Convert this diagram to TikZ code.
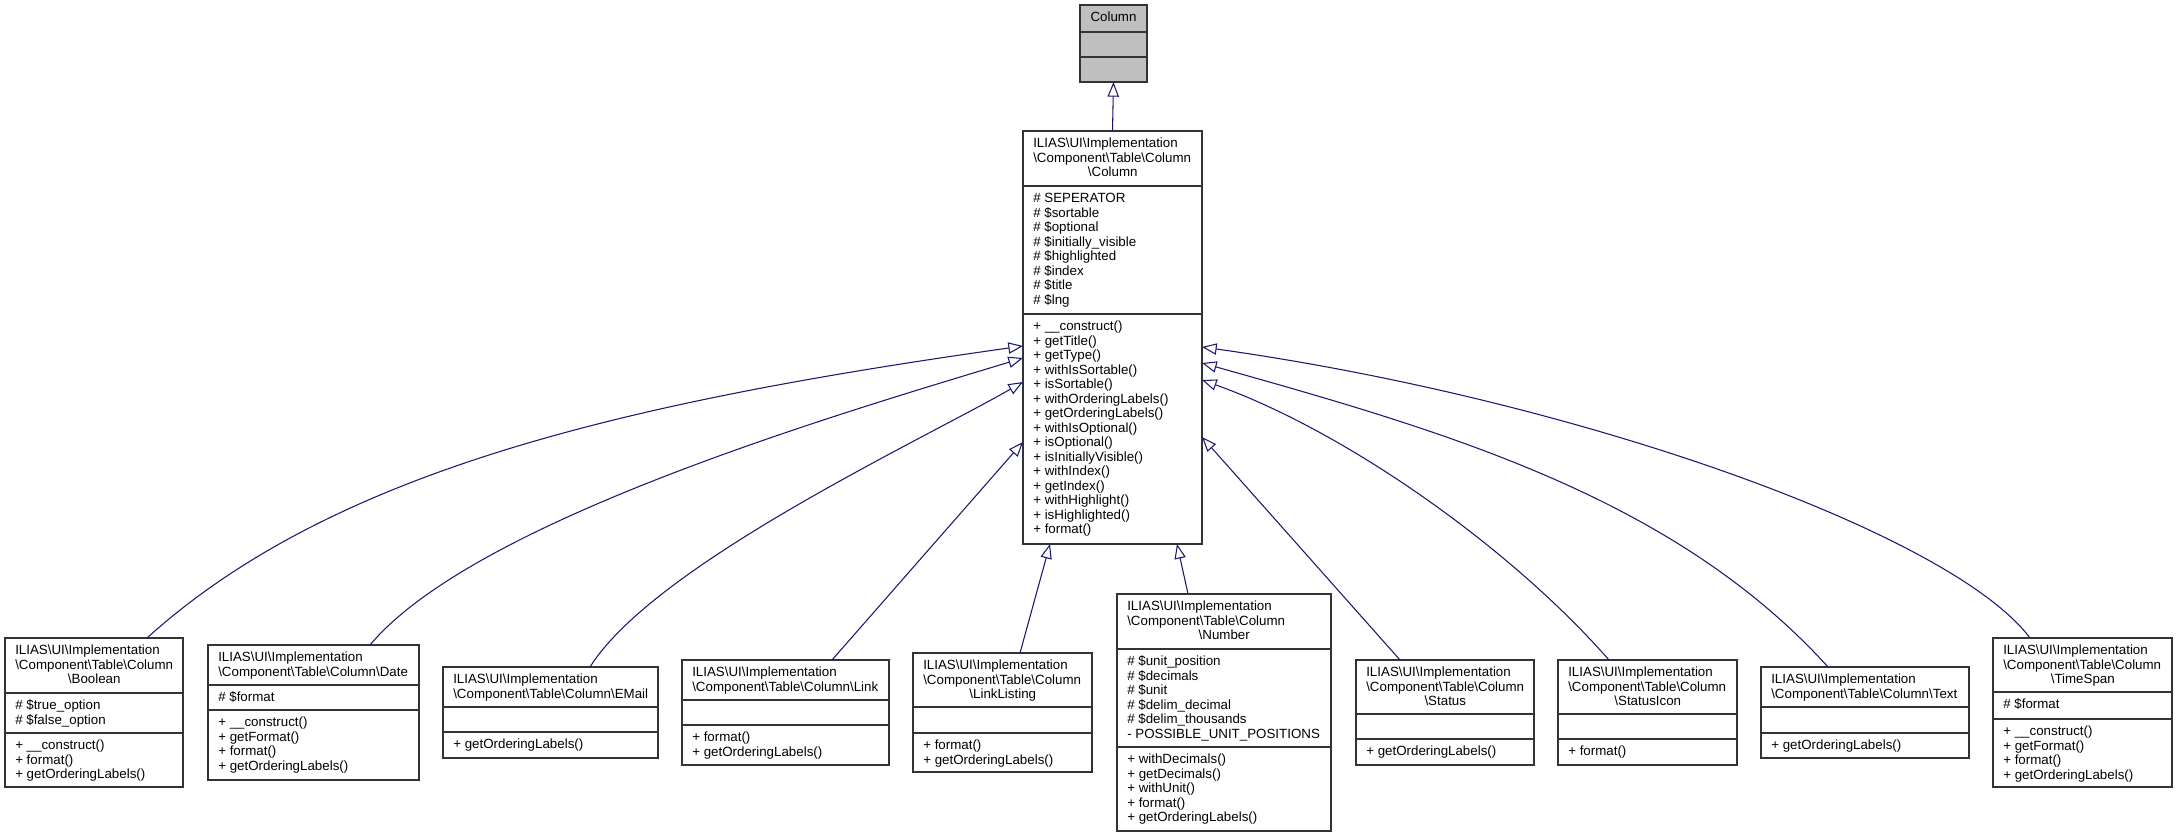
\documentclass[tikz,border=0pt]{standalone}
\usepackage{fontspec}
\setmainfont{Liberation Sans}
\usetikzlibrary{arrows.meta,calc}
\definecolor{edgeblue}{HTML}{191970}
\definecolor{boxgrey}{HTML}{BFBFBF}
\hyphenpenalty=10000
\newcommand{\bs}{\textbackslash}
\newcommand{\ns}{ILIAS\bs UI\bs Implementation}
\newcommand{\cmp}{\bs Component\bs Table\bs Column}
\newcommand{\tlong}[1]{\ns\\\cmp\\\multicolumn{1}{@{}c@{}}{\bs #1}}
\newcommand{\tshort}[1]{\ns\\\cmp\bs #1}
\begin{document}
\begin{tikzpicture}[x=0.75pt, y=-0.75pt, font=\fontsize{10}{10.9}\selectfont,
    cls/.style={draw=black!80, line width=0.8pt, inner sep=0pt, outer sep=0pt, anchor=north west},
    rule/.style={draw=black!80, line width=0.8pt},
    txt/.style={inner sep=0pt, anchor=base west},
    inh/.style={draw=edgeblue, line width=0.8pt, -{Triangle[open, length=11pt, width=8.5pt]}}]
\useasboundingbox (0,0) rectangle (2177,837);
% base class
\node[cls, fill=boxgrey, minimum width=50.25pt, minimum height=57.75pt] (col) at (1080,5) {};
\draw[rule] (col.west |- 0,32) -- (col.east |- 0,32) (col.west |- 0,57) -- (col.east |- 0,57);
\node[anchor=base, inner sep=0pt] (col-t) at (col.north |- 0,21.5) {Column};
% classes: name/left/top/right/bottom/rule 1/rule 2/title/attributes/operations
\foreach \n/\xl/\yt/\xr/\yb/\da/\db/\ttl/\atr/\ops in {
    main/1023/131/1202/544/186/314/{\tlong{Column}}/{\# SEPERATOR\\\# \$sortable\\\# \$optional\\\# \$initially\_visible\\\# \$highlighted\\\# \$index\\\# \$title\\\# \$lng}/{+ \_\_construct()\\+ getTitle()\\+ getType()\\+ withIsSortable()\\+ isSortable()\\+ withOrderingLabels()\\+ getOrderingLabels()\\+ withIsOptional()\\+ isOptional()\\+ isInitiallyVisible()\\+ withIndex()\\+ getIndex()\\+ withHighlight()\\+ isHighlighted()\\+ format()},
    bool/5/638/183/787/693/733/{\tlong{Boolean}}/{\# \$true\_option\\\# \$false\_option}/{+ \_\_construct()\\+ format()\\+ getOrderingLabels()},
    date/208/645/419/780/685/710/{\tshort{Date}}/{\# \$format}/{+ \_\_construct()\\+ getFormat()\\+ format()\\+ getOrderingLabels()},
    email/443/667/658/758/707/732/{\tshort{EMail}}/{}/{+ getOrderingLabels()},
    link/682/660/889/765/700/725/{\tshort{Link}}/{}/{+ format()\\+ getOrderingLabels()},
    linklist/913/653/1092/772/707/733/{\tlong{LinkListing}}/{}/{+ format()\\+ getOrderingLabels()},
    number/1117/594/1331/831/649/747/{\tlong{Number}}/{\# \$unit\_position\\\# \$decimals\\\# \$unit\\\# \$delim\_decimal\\\# \$delim\_thousands\\- POSSIBLE\_UNIT\_POSITIONS}/{+ withDecimals()\\+ getDecimals()\\+ withUnit()\\+ format()\\+ getOrderingLabels()},
    status/1356/660/1534/765/714/739/{\tlong{Status}}/{}/{+ getOrderingLabels()},
    staticon/1558/660/1737/765/714/739/{\tlong{StatusIcon}}/{}/{+ format()},
    textcol/1761/667/1969/758/707/733/{\tshort{Text}}/{}/{+ getOrderingLabels()},
    timespan/1993/638/2172/787/692/719/{\tlong{TimeSpan}}/{\# \$format}/{+ \_\_construct()\\+ getFormat()\\+ format()\\+ getOrderingLabels()}}{
    \pgfmathsetmacro{\w}{(\xr-\xl-20)*0.75}
    \node[cls, minimum width={(\xr-\xl)*0.75pt}, minimum height={(\yb-\yt)*0.75pt}] (\n) at (\xl,\yt) {};
    \draw[rule] (\n.west |- 0,\da) -- (\n.east |- 0,\da) (\n.west |- 0,\db) -- (\n.east |- 0,\db);
    \node[txt] (\n-t) at (\xl+10,\yt+16.5) {\begin{tabular}[t]{@{}p{\w pt}@{}}\ttl\end{tabular}};
    \node[txt] (\n-a) at (\xl+10,\da+16.5) {\begin{tabular}[t]{@{}l@{}}\atr\end{tabular}};
    \node[txt] (\n-o) at (\xl+10,\db+16.5) {\begin{tabular}[t]{@{}l@{}}\ops\end{tabular}};
}
% inheritance
\draw[inh] (main.north) -- (col.south);
\draw[inh] (147,0 |- bool.north) .. controls (333,470) and (626,402) .. (main.west |- 0,346);
\draw[inh] (370,0 |- date.north) .. controls (473,522) and (831,416) .. (main.west |- 0,358);
\draw[inh] (590,0 |- email.north) .. controls (654,565) and (918,442) .. (main.west |- 0,382);
\draw[inh] (832,0 |- link.north) -- (main.west |- 0,442);
\draw[inh] (1020,0 |- linklist.north) -- (1050,0 |- main.south);
\draw[inh] (1188,0 |- number.north) -- (1177,0 |- main.south);
\draw[inh] (1400,0 |- status.north) -- (main.east |- 0,437);
\draw[inh] (1609,0 |- staticon.north) .. controls (1510,547) and (1345,431) .. (main.east |- 0,380);
\draw[inh] (1828,0 |- textcol.north) .. controls (1674,497) and (1444,431) .. (main.east |- 0,363);
\draw[inh] (2030,0 |- timespan.north) .. controls (1952,534) and (1580,400) .. (main.east |- 0,347);
\end{tikzpicture}
\end{document}
